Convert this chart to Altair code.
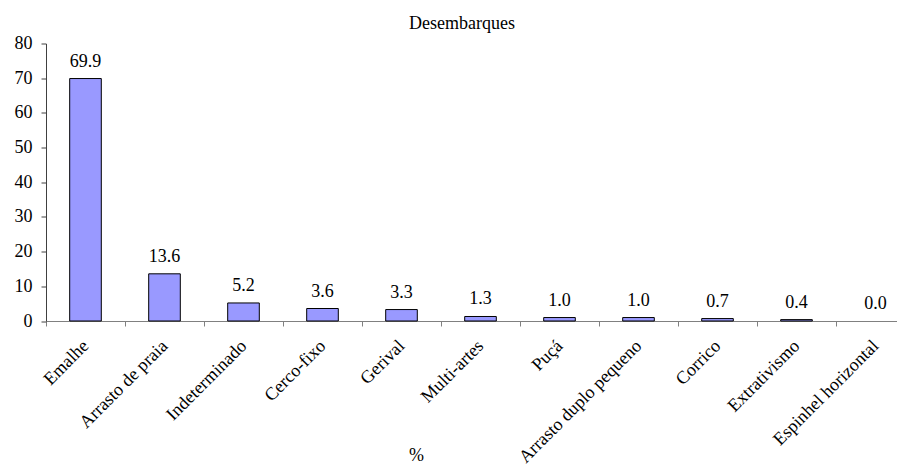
import altair as alt
import pandas as pd

categories = ["Emalhe", "Arrasto de praia", "Indeterminado", "Cerco-fixo", "Gerival",
              "Multi-artes", "Puçá", "Arrasto duplo pequeno", "Corrico", "Extrativismo",
              "Espinhel horizontal"]
values = [69.9, 13.6, 5.2, 3.6, 3.3, 1.3, 1.0, 1.0, 0.7, 0.4, 0.0]
y_ticks = [0, 10, 20, 30, 40, 50, 60, 70, 80]

df = pd.DataFrame({"cat": categories, "val": values})
df["lbl"] = [f"{v:.1f}" for v in values]

FONT = "Liberation Serif"
W, H = 851, 277.5
RANGE_W = 869

x_enc = alt.X(
    "cat:N", sort=categories,
    scale=alt.Scale(range=[0, RANGE_W], paddingInner=0, paddingOuter=0),
    axis=alt.Axis(
        title="%", titleFont=FONT, titleFontSize=18, titleFontWeight="normal",
        titleColor="black", titleX=370, titleY=139, titleBaseline="alphabetic",
        titleAlign="center", titleAngle=0,
        labelAngle=-45, labelAlign="right", labelBaseline="middle",
        labelFont=FONT, labelFontSize=18, labelColor="black", labelPadding=17,
        labelOverlap=False, labelLimit=0, labelBound=False, labelFlush=False,
        tickBand="extent", tickSize=5, tickColor="#808080", domainColor="#808080",
        grid=False,
    ),
)
y_enc = alt.Y(
    "val:Q",
    scale=alt.Scale(domain=[0, 80], nice=False),
    axis=alt.Axis(
        title=None, values=y_ticks, format="d", labelOverlap=False,
        labelFont=FONT, labelFontSize=18, labelColor="black", labelPadding=9,
        tickSize=5, tickColor="#404040", domainColor="#404040", grid=False,
    ),
)

base = alt.Chart(df).encode(x=x_enc, y=y_enc)

bars = base.mark_bar(
    width=alt.RelativeBandSize(0.4), color="#9999FF", strokeWidth=1
).encode(
    stroke=alt.condition("datum.val > 0", alt.value("black"), alt.value(None)),
)

labels = base.mark_text(
    font=FONT, fontSize=18, color="black", baseline="alphabetic", dy=-12
).encode(text="lbl:N")

chart = alt.layer(bars, labels).properties(
    width=W, height=H,
    title=alt.TitleParams(
        "Desembarques", font=FONT, fontSize=18, fontWeight="normal", color="black",
        anchor="middle", frame="group", dx=-9.5, offset=2,
    ),
    autosize=alt.AutoSizeParams(type="none"),
    padding={"left": 38, "top": 35.5, "right": 0, "bottom": 146},
).configure_view(stroke=None)

chart.save("out.html", embed_options={"renderer": "svg", "actions": False})
